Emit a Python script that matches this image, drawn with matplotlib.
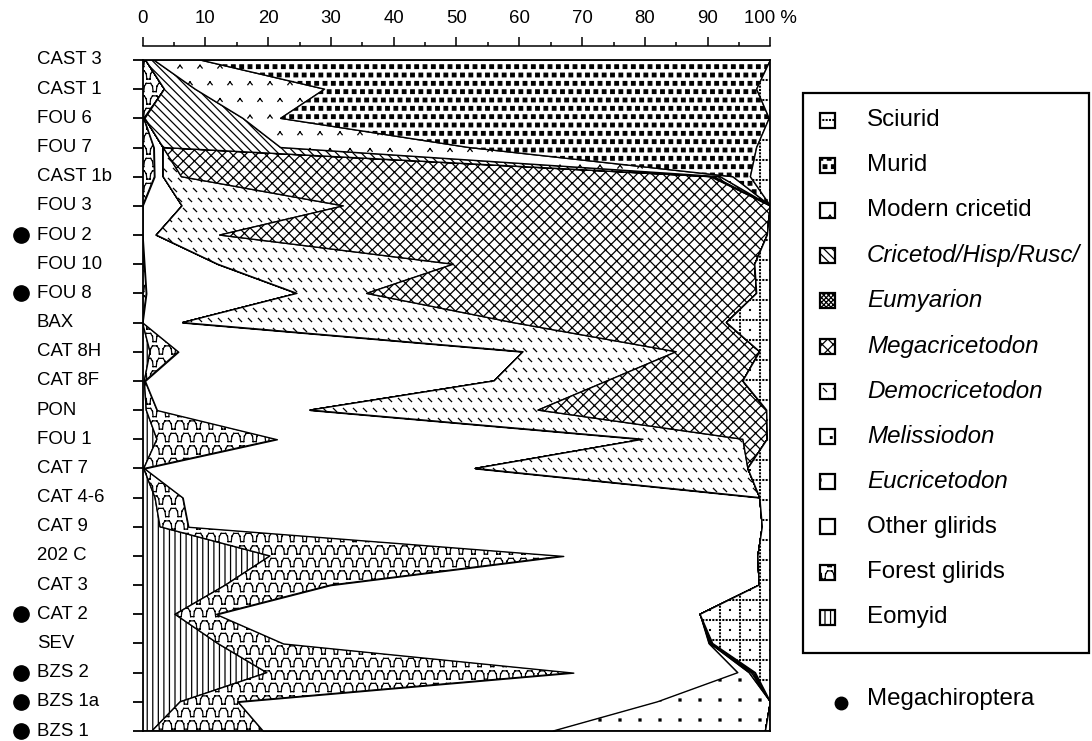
import warnings
warnings.filterwarnings("ignore")
import numpy as np
import matplotlib
matplotlib.use("Agg")
import matplotlib.pyplot as plt
import matplotlib.hatch as mhatch
from matplotlib.path import Path
from matplotlib.patches import Rectangle
from matplotlib.transforms import blended_transform_factory

plt.rcParams['font.family'] = ['Liberation Sans', 'DejaVu Sans']
plt.rcParams['hatch.linewidth'] = 0.9

# ---------------- data ----------------
sites = ["CAST 3", "CAST 1", "FOU 6", "FOU 7", "CAST 1b", "FOU 3", "FOU 2",
         "FOU 10", "FOU 8", "BAX", "CAT 8H", "CAT 8F", "PON", "FOU 1", "CAT 7",
         "CAT 4-6", "CAT 9", "202 C", "CAT 3", "CAT 2", "SEV", "BZS 2",
         "BZS 1a", "BZS 1"]
megachiroptera_sites = ["FOU 2", "FOU 8", "CAT 2", "BZS 2", "BZS 1a", "BZS 1"]

eomyid          = [0, 0, 0, 0, 0, 0, 0, 0, 0, 0, 1.2, 0.3, 0.6, 2.3, 0.2,
                   2.0, 2.8, 20.3, 13.2, 5.2, 12.0, 19.8, 6.0, 1.5]
forest_glirids  = [0.5, 3.5, 0.2, 1.8, 1.9, 0, 0, 0.3, 0.6, 0, 4.5, 0.1, 1.7, 19.1, 0.1,
                   4.4, 4.5, 46.7, 16.7, 6.6, 10.4, 48.8, 9.2, 17.7]
other_glirids   = [0, 0, 0.2, 1.5, 1.4, 6.3, 2.2, 11.7, 24.0, 6.4, 54.9, 55.6, 24.4, 58.3, 52.7,
                   91.9, 91.4, 31.0, 68.3, 77.0, 67.8, 26.2, 66.8, 46.2]
eucricetodon    = [0, 0, 0, 0, 0, 0, 0, 0, 0, 0, 0, 0, 0, 0, 0,
                   0, 0, 0, 0, 0, 0.2, 1.8, 18.0, 33.8]
melissiodon     = [0, 0, 0, 0, 0, 0, 0, 0, 0, 0, 0, 0, 0, 0, 0,
                   0, 0, 0, 0, 0, 0.1, 0.4, 0, 0]
democricetodon  = [0, 0, 0, 0, 2.9, 25.7, 10.1, 37.5, 11.1, 52.6, 24.4, 18.0, 36.3, 15.9, 43.4,
                   0, 0, 0, 0, 0, 0.1, 0.3, 0, 0]
megacricetodon  = [0, 0, 0, 0, 84.3, 68.0, 87.2, 48.0, 62.1, 34.0, 13.3, 21.6, 36.4, 3.9, 0,
                   0, 0, 0, 0, 0, 0.1, 0.3, 0, 0]
eumyarion       = [0, 0, 0, 0, 0.5, 0, 0, 0, 0, 0, 0, 0, 0, 0, 0,
                   0, 0, 0, 0, 0, 0.1, 0, 0, 0]
cricetod        = [1.3, 4.9, 15.6, 18.7, 1.0, 0, 0, 0, 0, 0, 0, 0, 0, 0, 0,
                   0, 0, 0, 0, 0, 0, 0, 0, 0]
modern_cricetid = [7.4, 20.6, 6.0, 30.0, 2.0, 0, 0, 0, 0, 0, 0, 0, 0, 0, 0,
                   0, 0, 0, 0, 0, 0, 0, 0, 0]
murid           = [90.8, 68.8, 77.8, 45.8, 2.8, 0, 0, 0, 0, 0, 0, 0, 0, 0, 0,
                   0, 0, 0, 0, 0, 0, 0, 0, 0]
sciurid         = [0, 2.2, 0.2, 2.2, 3.2, 0, 0.5, 2.5, 2.2, 7.0, 1.7, 4.4, 0.6, 0.5, 3.6,
                   1.7, 1.3, 2.0, 1.8, 11.2, 9.2, 2.4, 0, 0.8]

# stacking order from the left edge
series_names = ["Eomyid", "Forest glirids", "Other glirids", "Eucricetodon",
                "Melissiodon", "Democricetodon", "Megacricetodon", "Eumyarion",
                "Cricetod/Hisp/Rusc/", "Modern cricetid", "Murid", "Sciurid"]
series_values = [eomyid, forest_glirids, other_glirids, eucricetodon, melissiodon,
                 democricetodon, megacricetodon, eumyarion, cricetod,
                 modern_cricetid, murid, sciurid]
italic_names = {"Eucricetodon", "Melissiodon", "Democricetodon", "Megacricetodon",
                "Eumyarion", "Cricetod/Hisp/Rusc/"}
x_ticks = [0, 10, 20, 30, 40, 50, 60, 70, 80, 90, 100]
x_ticklabels = ["0", "10", "20", "30", "40", "50", "60", "70", "80", "90", "100 %"]

# ---------------- custom hatch patterns ----------------
def _segs(pairs):
    v, c = [], []
    for a, b in pairs:
        v += [a, b]
        c += [Path.MOVETO, Path.LINETO]
    return v, c

def _squares(centers, s):
    v, c = [], []
    for x, y in centers:
        v += [(x - s, y - s), (x + s, y - s), (x + s, y + s), (x - s, y + s), (x - s, y - s)]
        c += [Path.MOVETO, Path.LINETO, Path.LINETO, Path.LINETO, Path.CLOSEPOLY]
    return v, c

def _lattice(rows, cols, stagger):
    pts = []
    for i in range(rows + 1):
        y = i / rows
        off = 0.5 / cols if (stagger and i % 2) else 0.0
        for j in range(-1, cols + 1):
            pts.append((j / cols + off, y))
    return pts

def _register(char, builder):
    class _H(mhatch.HatchPatternBase):
        def __init__(self, hatch, density):
            if hatch is not None and char in hatch:
                v, c = builder()
                self._v = np.array(v, float)
                self._c = np.array(c, dtype=Path.code_type)
                self.num_vertices = len(self._v)
            else:
                self.num_vertices = 0

        def set_vertices_and_codes(self, vertices, codes):
            vertices[:] = self._v
            codes[:] = self._c
    mhatch._hatch_types.append(_H)

def _b_grid():      # dotted grid (Sciurid)
    centers = []
    n, d = 5, 30
    for i in range(n + 1):
        for j in range(d + 1):
            centers.append((j / d, i / n))
            centers.append((i / n, j / d))
    for i in range(n):
        for j in range(n):
            centers.append(((j + 0.5) / n, (i + 0.5) / n))
    return _squares(centers, 0.004)

def _b_murid():     # staggered filled squares
    return _squares(_lattice(12, 12, True), 0.018)

def _b_chevron():   # ^ marks
    pairs = []
    w, h = 0.022, 0.014
    for x, y in _lattice(6, 5, True):
        pairs.append(((x - w, y - h), (x, y + h)))
        pairs.append(((x, y + h), (x + w, y - h)))
    return _segs(pairs)

def _b_cross():     # diagonal crosshatch
    pairs = []
    m = 9
    for k in range(-m, 2 * m + 1):
        c = k / m
        pairs.append(((c, 0.0), (c + 1.0, 1.0)))
        pairs.append(((c, 0.0), (c - 1.0, 1.0)))
    return _segs(pairs)

def _b_back():      # '\' lines
    pairs = []
    m = 12
    for k in range(0, 2 * m + 1):
        c = k / m
        pairs.append(((c, 0.0), (c - 1.0, 1.0)))
    return _segs(pairs)

def _b_dash():      # short '\' dashes
    pairs = []
    s = 0.016
    for x, y in _lattice(10, 10, True):
        pairs.append(((x - s, y + s), (x + s, y - s)))
    return _segs(pairs)

def _b_dots_sparse():
    return _squares(_lattice(5, 5, False), 0.010)

def _b_dots_dense():
    return _squares(_lattice(8, 8, True), 0.008)

def _b_wave():      # arches (Forest glirids)
    pairs = []
    rows, per = 8, 8
    shape = [(0.0, -1), (0.05, 0.3), (0.2, 1), (0.55, 1), (0.7, 0.3), (0.75, -1), (1.0, -1)]
    for i in range(rows + 1):
        y0 = i / rows
        a = 0.33 / rows
        off = 0.5 / per if i % 2 else 0.0
        for j in range(-1, per + 1):
            x0 = j / per + off
            pts = [(x0 + u / per, y0 + a * v) for u, v in shape]
            for p, q in zip(pts[:-1], pts[1:]):
                pairs.append((p, q))
    return _segs(pairs)

_register('g', _b_grid)
_register('s', _b_murid)
_register('v', _b_chevron)
_register('k', _b_cross)
_register('r', _b_back)
_register('d', _b_dash)
_register('e', _b_dots_sparse)
_register('m', _b_dots_dense)
_register('n', _b_wave)

series_hatches = ["|||", "n", None, "e", "m", "d", "k", "xxxxxxx", "r", "v", "s", "g"]

# ---------------- figure ----------------
W, H = 1092, 741
fig = plt.figure(figsize=(W / 100, H / 100), dpi=100)
ax_top_px, ax_bot_px = 60, 731
ax = fig.add_axes([142.5 / W, (H - ax_bot_px) / H, 628 / W, (ax_bot_px - ax_top_px) / H])

y = np.arange(len(sites))
left = np.zeros(len(sites))
for name, vals, hatch in zip(series_names, series_values, series_hatches):
    right = left + np.asarray(vals, float)
    ax.fill_betweenx(y, left, right, facecolor='white', edgecolor='black',
                     hatch=hatch, linewidth=1.0)
    left = right

ax.set_xlim(0, 100)
ax.set_ylim(len(sites) - 1, 0)

# box top
ax.plot([0, 100], [0, 0], color='black', lw=1.3, clip_on=False, zorder=5)
for s in ['left', 'right', 'bottom']:
    ax.spines[s].set_linewidth(1.3)
ax.spines['top'].set_position(('outward', 10))
ax.spines['top'].set_linewidth(1.1)

ax.xaxis.set_ticks_position('top')
ax.set_xticks(x_ticks)
ax.set_xticklabels(x_ticklabels)
ax.set_xticks(np.arange(5, 100, 10), minor=True)
ax.tick_params(axis='x', which='major', direction='out', length=6.5, width=1.1,
               pad=7, labelsize=13.4, top=True, bottom=False,
               labeltop=True, labelbottom=False)
ax.tick_params(axis='x', which='minor', direction='out', length=3, width=1.1,
               top=True, bottom=False)

ax.set_yticks(y)
ax.set_yticklabels([])
ax.tick_params(axis='y', direction='out', length=7.5, width=1.3, left=True, right=False)

trans = blended_transform_factory(fig.transFigure, ax.transData)
for i, s in enumerate(sites):
    ax.text(37 / W, i, s, transform=trans, ha='left', va='center', fontsize=13.4,
            clip_on=False)
    if s in megachiroptera_sites:
        ax.plot([21 / W], [i], transform=trans, marker='o', ms=11, color='black',
                clip_on=False)

# ---------------- legend ----------------
def fx(px):
    return px / W

def fy(py):
    return 1 - py / H

fig.patches.append(Rectangle((fx(803), fy(653)), fx(1089) - fx(803), fy(93) - fy(653),
                             transform=fig.transFigure, fill=False, lw=1.6,
                             edgecolor='black'))
leg_top, leg_step = 120, 45.2
icon = 15
for k, idx in enumerate(range(len(series_names) - 1, -1, -1)):
    name = series_names[idx]
    yc = leg_top + k * leg_step
    fig.patches.append(Rectangle((fx(827 - icon / 2), fy(yc + icon / 2)),
                                 icon / W, icon / H, transform=fig.transFigure,
                                 facecolor='white', edgecolor='black', lw=1.6,
                                 hatch=series_hatches[idx]))
    fig.text(fx(867), fy(yc), name, ha='left', va='center', fontsize=17.4,
             style='italic' if name in italic_names else 'normal')

fig.lines.append(plt.Line2D([fx(841)], [fy(703)], transform=fig.transFigure,
                            marker='o', ms=9, color='black'))
fig.text(fx(867), fy(699), "Megachiroptera", ha='left', va='center', fontsize=17.4)

fig.savefig("out.png", dpi=100)
